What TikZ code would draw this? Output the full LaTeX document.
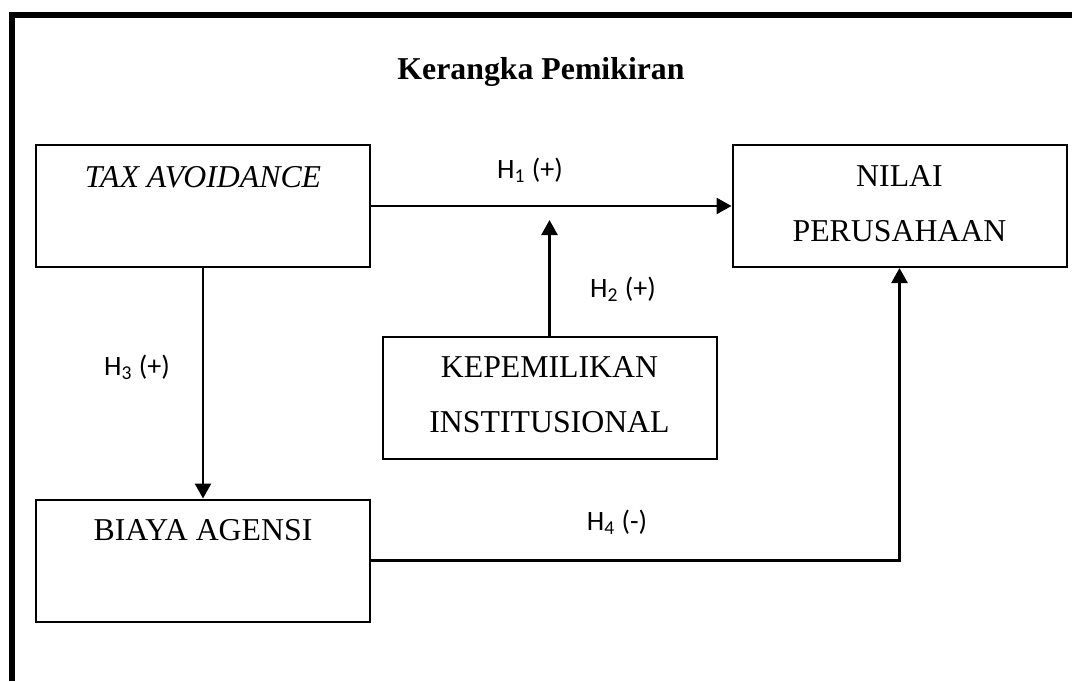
\documentclass[tikz,border=0pt]{standalone}
\usepackage{fontspec}
\setmainfont{Liberation Serif}
\newfontfamily\calibri{Carlito}
\usetikzlibrary{arrows.meta,positioning}

\begin{document}
\begin{tikzpicture}[x=0.5pt,y=-0.5pt,
        box/.style={draw,line width=1pt,minimum width=167pt,minimum height=61pt,inner sep=0pt},
        boxtxt/.style={anchor=base,inner sep=0pt,font=\fontsize{15.9}{19}\selectfont},
        hyp/.style={anchor=base,inner sep=0pt,font=\calibri\fontsize{14}{17}\selectfont},
        arr/.style={line width=1.25pt,-{Triangle[length=7.5pt,width=8pt]}}]
        \useasboundingbox (0,0) rectangle (1072,681);
        \draw[line width=3pt] (11.5,681) |- (1072,14.5);
        \node[boxtxt,font=\bfseries\fontsize{15.9}{19}\selectfont] (title) at (541,79) {Kerangka Pemikiran};
        % kotak variabel
        \node[box] (tax) at (203,206) {};
        \node[box] (nilai) at (899.5,206) {};
        \node[box] (kep) at (549.5,398) {};
        \node[box] (biaya) at (203,560.5) {};
        \node[boxtxt] (taxtxt) at (203,187) {\itshape TAX AVOIDANCE};
        \node[boxtxt] (nilaitxt) at (899.5,186) {NILAI};
        \node[boxtxt] (nilaitxtb) at (899.5,241) {PERUSAHAAN};
        \node[boxtxt] (keptxt) at (549.5,377) {KEPEMILIKAN};
        \node[boxtxt] (keptxtb) at (549.5,432) {INSTITUSIONAL};
        \node[boxtxt] (biayatxt) at (203,540) {BIAYA AGENSI};
        % panah hipotesis
        \coordinate (h2tip) at (549.5,220);
        \draw[arr] (tax) -- (nilai);
        \draw[arr] (kep) -- (h2tip);
        \draw[arr] (tax) -- (biaya);
        \draw[arr] (biaya) -| (nilai);
        \node[hyp] (h1) at (530,178) {H\textsubscript{1} (+)};
        \node[hyp] (h2) at (623,297) {H\textsubscript{2} (+)};
        \node[hyp] (h3) at (137,375) {H\textsubscript{3} (+)};
        \node[hyp] (h4) at (617,530) {H\textsubscript{4} (-)};
\end{tikzpicture}
\end{document}
